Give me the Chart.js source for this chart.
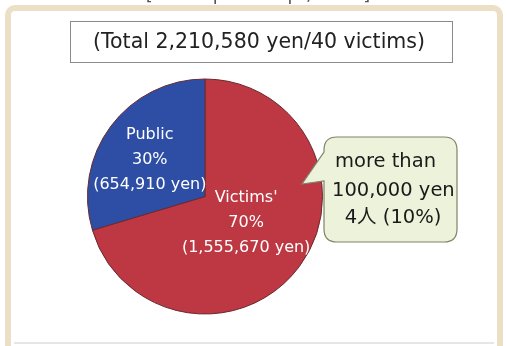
<!DOCTYPE html>
<html>
<head>
<meta charset="utf-8">
<script src="https://cdn.jsdelivr.net/npm/chart.js@4.4.0/dist/chart.umd.min.js"></script>
<style>
  html, body { margin: 0; padding: 0; background: #fff; }
  #wrap { width: 507px; height: 346px; position: relative; }
</style>
</head>
<body>
<div id="wrap"><canvas id="pieChart" width="507" height="346"></canvas></div>
<script>
// data
const labels = ["Victims'", "Public"];
const amounts = [1555670, 654910];
const percents = [70, 30];
const sliceColors = ["#bd3842", "#2e4ea6"];
const periodText = "[from Apr. to Sept, 2013]";
const titleText = "(Total 2,210,580 yen/40 victims)";
const calloutLines = ["more than", "100,000 yen", "4人 (10%)"];

const FONT = '"DejaVu Sans", "Noto Sans CJK JP", sans-serif';

const fmt = (n) => n.toLocaleString("en-US");

// ================= DECORATION (frame, title, callout) =================
const decoPlugin = {
    id: "deco",
    beforeDraw(chart) {
        const ctx = chart.ctx;
        ctx.save();
        ctx.fillStyle = "#fff";
        ctx.fillRect(0, 0, chart.width, chart.height);

        // outer beige frame
        ctx.strokeStyle = "#ebe0c6";
        ctx.lineWidth = 6;
        ctx.beginPath();
        ctx.roundRect(8, 8, 492, 360, 7);
        ctx.stroke();

        // faint line near the bottom
        ctx.strokeStyle = "#e6e6e6";
        ctx.lineWidth = 2;
        ctx.beginPath();
        ctx.moveTo(14, 343);
        ctx.lineTo(494, 343);
        ctx.stroke();

        // period text, clipped at the top
        ctx.fillStyle = "#555";
        ctx.font = "18px " + FONT;
        ctx.textAlign = "center";
        ctx.textBaseline = "alphabetic";
        ctx.fillText(periodText, 258, 0);

        // title box
        ctx.fillStyle = "#fff";
        ctx.fillRect(70, 21, 382, 41);
        ctx.strokeStyle = "#8a8a8a";
        ctx.lineWidth = 1;
        ctx.strokeRect(70.5, 21.5, 382, 41);
        ctx.fillStyle = "#222";
        ctx.font = "20.5px " + FONT;
        ctx.textBaseline = "middle";
        ctx.fillText(titleText, 259, 43);
        ctx.restore();
    },
    afterDraw(chart) {
        const ctx = chart.ctx;
        const arcs = chart.getDatasetMeta(0).data;
        const { x: cx, y: cy, outerRadius: r } = arcs[0].getProps(["x", "y", "outerRadius"], true);

        ctx.save();
        // slice labels
        const offsets = [[0.35, 0.225], [-0.47, -0.31]];
        ctx.fillStyle = "#fff";
        ctx.font = "16px " + FONT;
        ctx.textAlign = "center";
        ctx.textBaseline = "middle";
        arcs.forEach((arc, i) => {
            const lx = cx + offsets[i][0] * r;
            const ly = cy + offsets[i][1] * r;
            ctx.fillText(labels[i], lx, ly - 25);
            ctx.fillText(percents[i] + "%", lx, ly);
            ctx.fillText("(" + fmt(amounts[i]) + " yen)", lx, ly + 25);
        });

        // callout bubble
        const bx = 324, by = 137, bw = 133, bh = 105, br = 13;
        ctx.beginPath();
        ctx.moveTo(bx + br, by);
        ctx.lineTo(bx + bw - br, by);
        ctx.quadraticCurveTo(bx + bw, by, bx + bw, by + br);
        ctx.lineTo(bx + bw, by + bh - br);
        ctx.quadraticCurveTo(bx + bw, by + bh, bx + bw - br, by + bh);
        ctx.lineTo(bx + br, by + bh);
        ctx.quadraticCurveTo(bx, by + bh, bx, by + bh - br);
        ctx.lineTo(bx, 181);
        ctx.lineTo(302, 184);
        ctx.lineTo(bx, 152);
        ctx.lineTo(bx, by + br);
        ctx.quadraticCurveTo(bx, by, bx + br, by);
        ctx.closePath();
        ctx.fillStyle = "#edf2da";
        ctx.fill();
        ctx.strokeStyle = "#7f8468";
        ctx.lineWidth = 1.2;
        ctx.stroke();

        ctx.fillStyle = "#1a1a1a";
        ctx.font = "19.5px " + FONT;
        ctx.textAlign = "left";
        ctx.fillText(calloutLines[0], 335, 162);
        ctx.fillText(calloutLines[1], 332, 191);
        ctx.textAlign = "center";
        ctx.fillText(calloutLines[2], 393, 218);
        ctx.restore();
    },
};

new Chart(document.getElementById("pieChart"), {
    type: "pie",
    data: {
        labels,
        datasets: [
            {
                data: amounts,
                backgroundColor: sliceColors,
                borderColor: "#6a2a30",
                borderWidth: 1,
            },
        ],
    },
    options: {
        responsive: false,
        animation: false,
        events: [],
        layout: { padding: { left: 87, right: 184, top: 78, bottom: 31 } },
        plugins: {
            legend: { display: false },
            tooltip: { enabled: false },
        },
    },
    plugins: [decoPlugin],
});
</script>
</body>
</html>
